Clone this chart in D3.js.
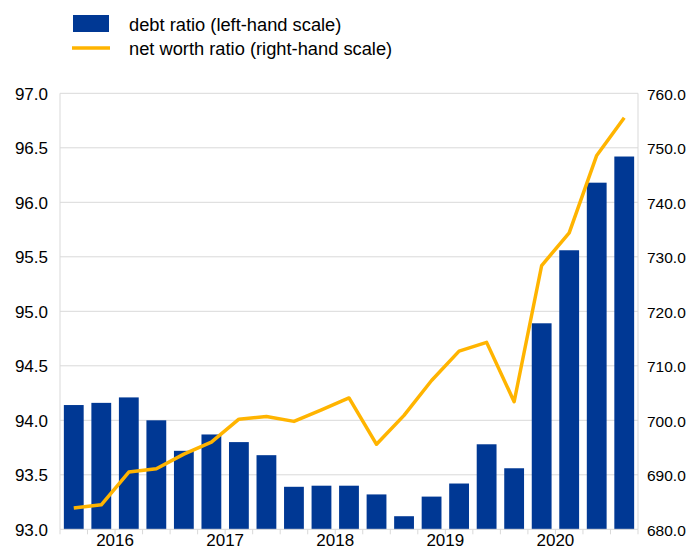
<!DOCTYPE html>
<html><head><meta charset="utf-8">
<script src="https://cdn.jsdelivr.net/npm/d3@7"></script>
<style>body{margin:0;background:#fff}svg{display:block;font-family:"Liberation Sans",Arial,sans-serif}</style>
</head><body><svg id="c" width="686" height="548"></svg>
<script>
const quarters = ["2016Q1","2016Q2","2016Q3","2016Q4","2017Q1","2017Q2","2017Q3","2017Q4","2018Q1","2018Q2","2018Q3","2018Q4","2019Q1","2019Q2","2019Q3","2019Q4","2020Q1","2020Q2","2020Q3","2020Q4","2021Q1"];
const debtRatio = [94.14,94.16,94.21,94.00,93.72,93.87,93.80,93.68,93.39,93.40,93.40,93.32,93.12,93.30,93.42,93.78,93.56,94.89,95.56,96.18,96.42];
const netWorth = [683.9,684.5,690.5,691.1,693.8,696.0,700.2,700.7,699.8,701.9,704.1,695.6,700.9,707.3,712.7,714.3,703.4,728.4,734.4,748.6,755.5];
const yearLabels = ["2016","2017","2018","2019","2020"];
const leftTicks = [93.0,93.5,94.0,94.5,95.0,95.5,96.0,96.5,97.0];
const rightTicks = [680,690,700,710,720,730,740,750,760];

const svg = d3.select("#c");
const L = 60, R = 638, T = 93.3, B = 529.3;
const x = d3.scaleBand().domain(quarters).range([L, R]).paddingInner(0.28).paddingOuter(0.14);
const yL = d3.scaleLinear().domain([93, 97]).range([B, T]);
const yR = d3.scaleLinear().domain([680, 760]).range([B, T]);
const grid = "#d9d9d9";

// gridlines
svg.append("g").selectAll("line").data(leftTicks.slice(1)).join("line")
  .attr("x1", L).attr("x2", R).attr("y1", d => yL(d)).attr("y2", d => yL(d))
  .attr("stroke", grid).attr("stroke-width", 1);
svg.append("line").attr("x1", L).attr("x2", L).attr("y1", T).attr("y2", B).attr("stroke", grid);
svg.append("line").attr("x1", R).attr("x2", R).attr("y1", T).attr("y2", B).attr("stroke", grid);

// bars
svg.append("g").selectAll("rect").data(quarters).join("rect")
  .attr("x", d => x(d)).attr("width", x.bandwidth())
  .attr("y", (d, i) => yL(debtRatio[i])).attr("height", (d, i) => B - yL(debtRatio[i]))
  .attr("fill", "#003894");

// bottom axis line and quarter ticks
svg.append("line").attr("x1", L).attr("x2", R).attr("y1", B).attr("y2", B).attr("stroke", grid);
const tickPos = d3.range(quarters.length + 1).map(i => L + (R - L) * i / quarters.length);
svg.append("g").selectAll("line").data(tickPos).join("line")
  .attr("x1", d => d).attr("x2", d => d).attr("y1", B).attr("y2", B + 5)
  .attr("stroke", grid);

// year labels
svg.append("g").selectAll("text").data(yearLabels).join("text")
  .attr("x", (d, i) => (x(d + "Q1") + x(d + "Q4") + x.bandwidth()) / 2)
  .attr("y", 545.5).attr("text-anchor", "middle").attr("font-size", 17).attr("fill", "#000")
  .text(d => d);

// left axis labels
svg.append("g").selectAll("text").data(leftTicks).join("text")
  .attr("x", 48).attr("y", d => yL(d) + 6.5).attr("text-anchor", "end")
  .attr("font-size", 17).attr("fill", "#000").text(d => d.toFixed(1));
// right axis labels
svg.append("g").selectAll("text").data(rightTicks).join("text")
  .attr("x", 647).attr("y", d => yR(d) + 6.5).attr("text-anchor", "start")
  .attr("font-size", 15.5).attr("fill", "#000").text(d => d.toFixed(1));

// line
const line = d3.line().x((d, i) => x(quarters[i]) + x.bandwidth() / 2).y(d => yR(d));
svg.append("path").datum(netWorth).attr("d", line).attr("fill", "none")
  .attr("stroke", "#ffb400").attr("stroke-width", 3.5).attr("stroke-linejoin", "round");

// legend
svg.append("rect").attr("x", 73).attr("y", 15).attr("width", 36).attr("height", 17).attr("fill", "#003894");
svg.append("line").attr("x1", 72).attr("x2", 110).attr("y1", 48).attr("y2", 48).attr("stroke", "#ffb400").attr("stroke-width", 3.5);
svg.append("text").attr("x", 129).attr("y", 31).attr("font-size", 18.3).attr("fill", "#000").text("debt ratio (left-hand scale)");
svg.append("text").attr("x", 129).attr("y", 55).attr("font-size", 18.3).attr("fill", "#000").text("net worth ratio (right-hand scale)");
</script></body></html>
